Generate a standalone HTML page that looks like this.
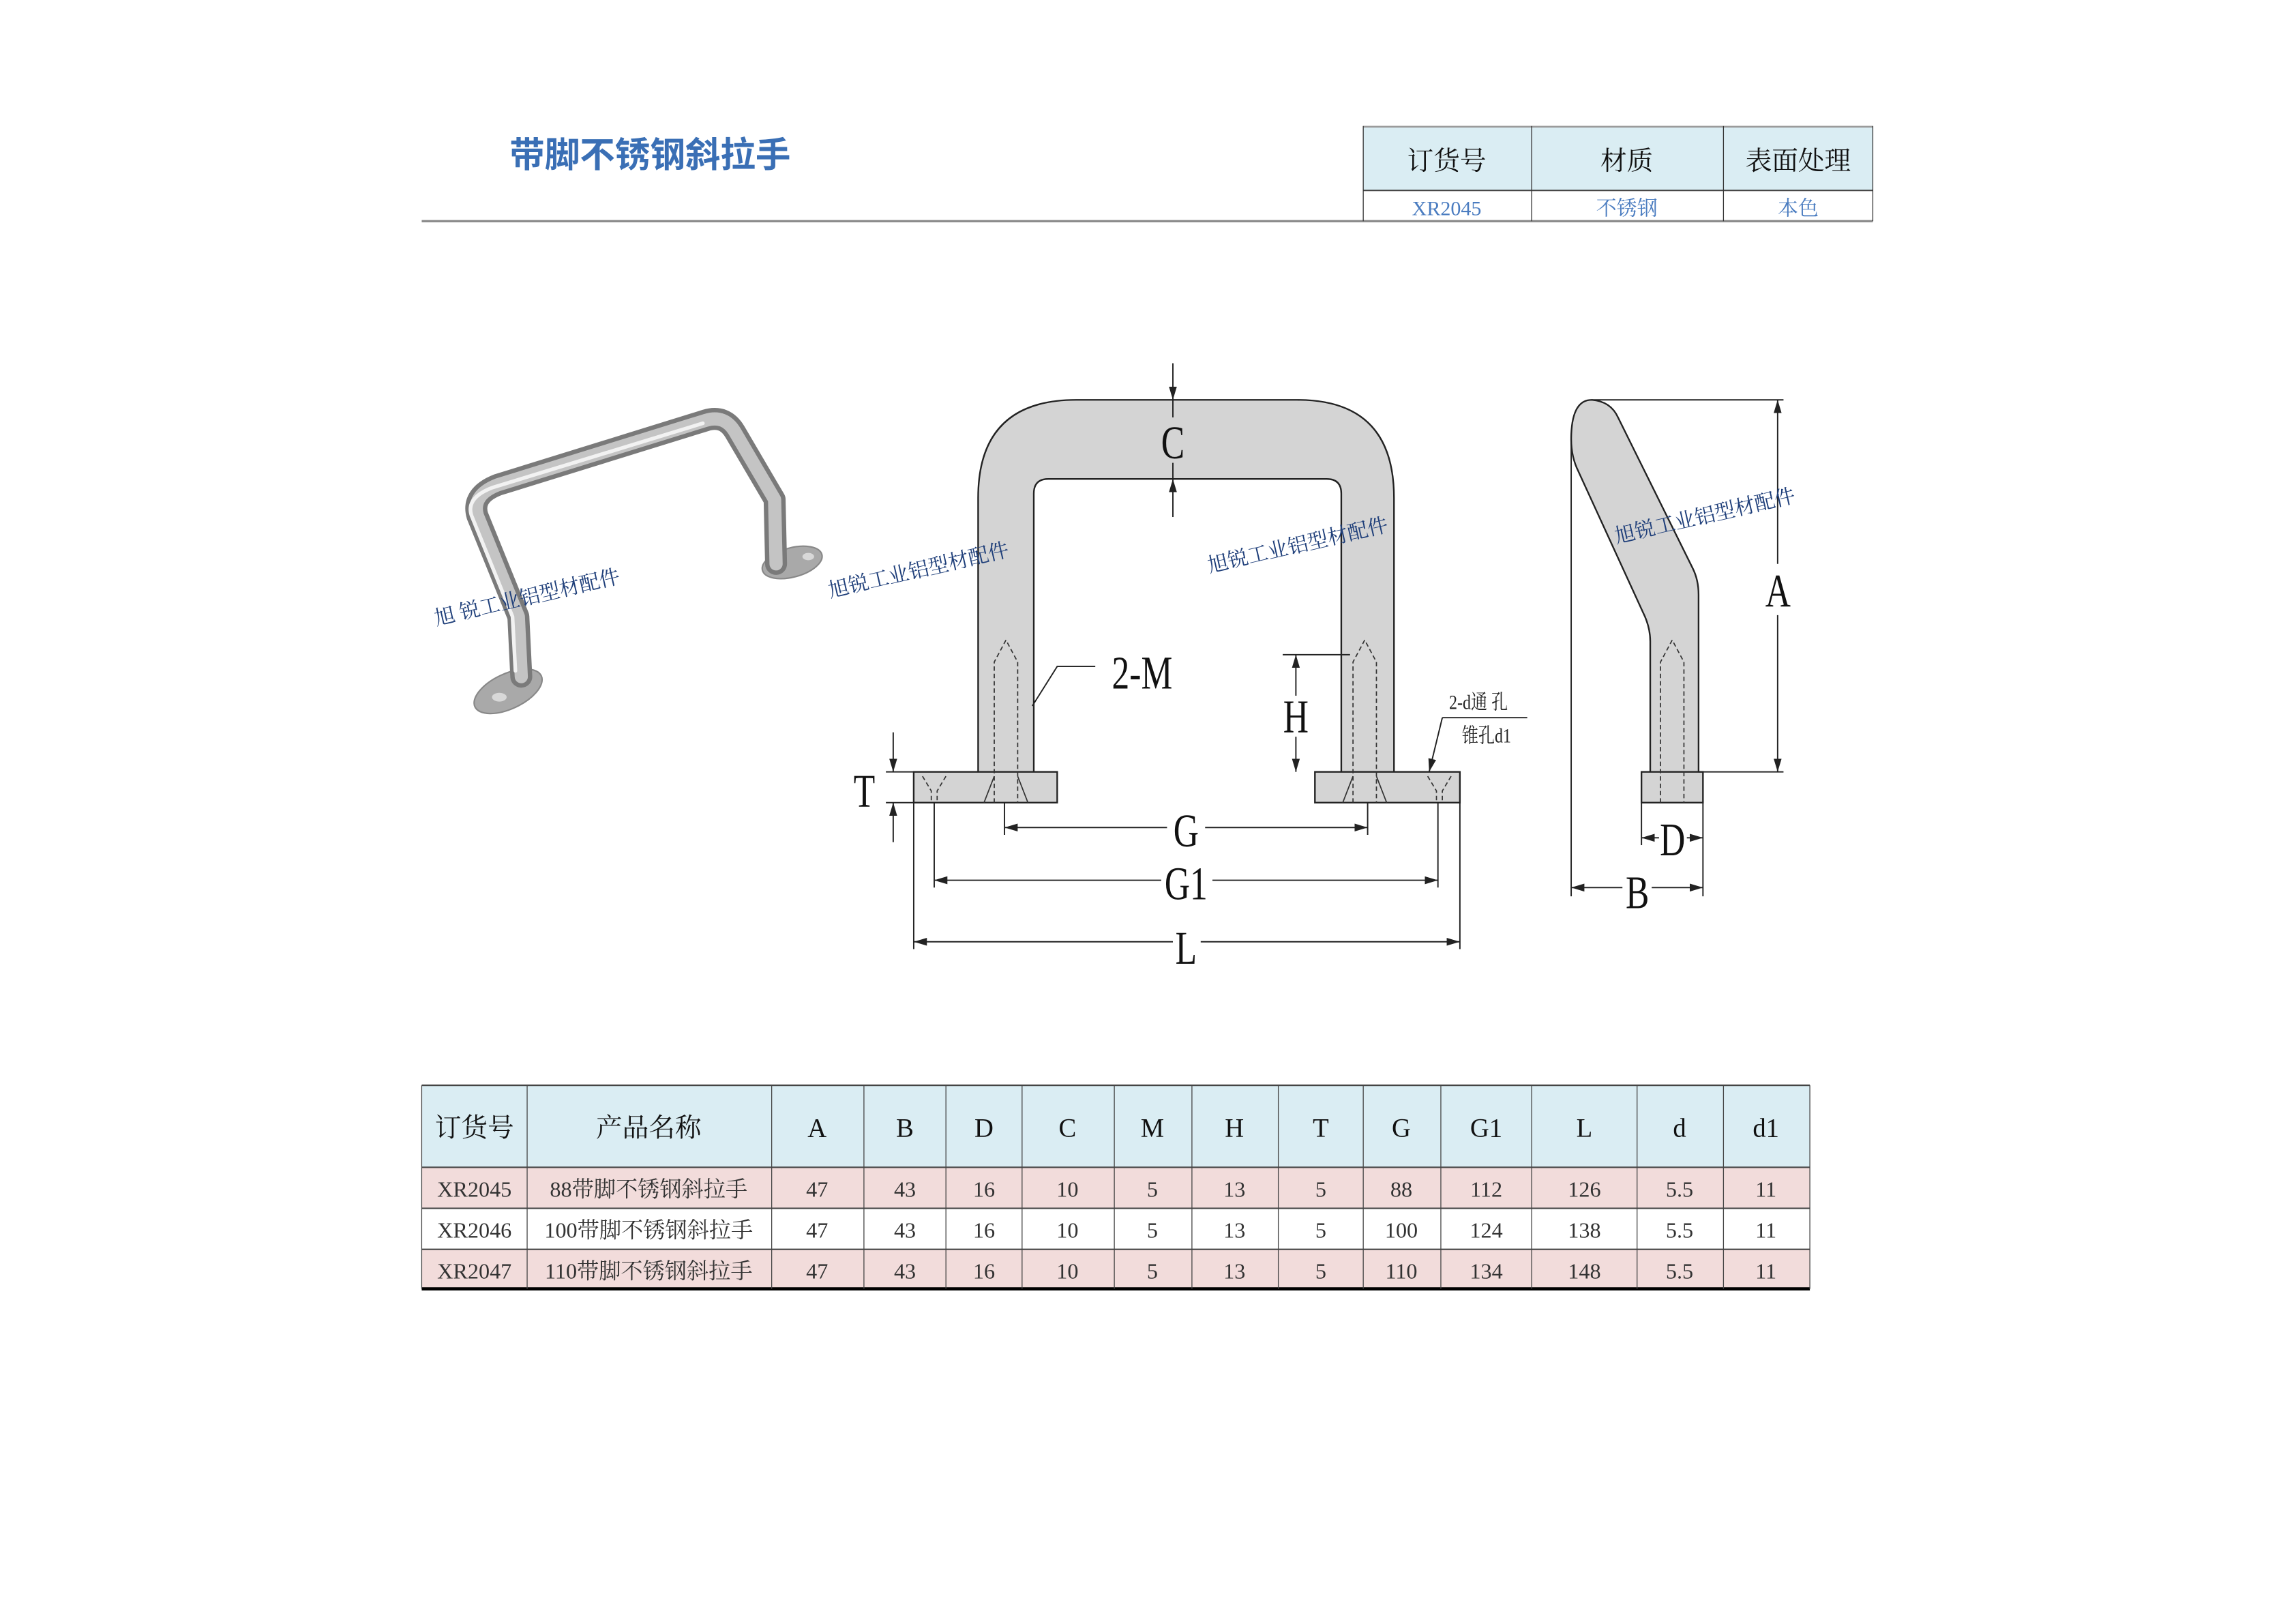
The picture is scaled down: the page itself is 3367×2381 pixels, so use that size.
<!DOCTYPE html>
<html><head><meta charset="utf-8"><style>
html,body{margin:0;padding:0;background:#fff}
svg{display:block}
text{font-family:"Liberation Serif","Noto Serif CJK SC",serif}
</style></head><body>
<svg width="3367" height="2381" viewBox="0 0 1568 1108.8" xmlns="http://www.w3.org/2000/svg">
<defs>
<marker id="ar" viewBox="0 0 10 10" refX="10" refY="5" markerWidth="9" markerHeight="9" orient="auto-start-reverse" markerUnits="userSpaceOnUse"><path d="M0,2 L10,5 L0,8 z" fill="#222"/></marker>
</defs>

<text x="348" y="114" font-size="24" font-weight="bold" fill="#3a6fb5" style="font-family:'Liberation Sans','Noto Sans CJK SC',sans-serif">带脚不锈钢斜拉手</text>
<line x1="288" y1="151" x2="1279" y2="151" stroke="#888" stroke-width="1.5"/>
<rect x="931" y="86" width="348" height="44" fill="#daedf3"/>
<line x1="931" y1="86.5" x2="1279" y2="86.5" stroke="#999" stroke-width="1.2"/>
<line x1="931" y1="130" x2="1279" y2="130" stroke="#444" stroke-width="1"/>
<g stroke="#333" stroke-width="0.6"><line x1="931" y1="86" x2="931" y2="151"/><line x1="1046" y1="86" x2="1046" y2="151"/><line x1="1177" y1="86" x2="1177" y2="151"/><line x1="1279" y1="86" x2="1279" y2="151"/></g>
<g font-size="18" text-anchor="middle" fill="#111"><text x="988" y="116">订货号</text><text x="1111" y="116">材质</text><text x="1228" y="116">表面处理</text></g>
<g font-size="14" text-anchor="middle" fill="#4a7cc0"><text x="988" y="147">XR2045</text><text x="1111" y="147">不锈钢</text><text x="1228" y="147">本色</text></g>

<g fill="none" stroke-linecap="round" stroke-linejoin="round">
<ellipse cx="347" cy="472" rx="25" ry="12" transform="rotate(-25 347 472)" fill="#a9a9a9" stroke="#888"/>
<ellipse cx="341" cy="476" rx="5" ry="3" fill="#d8d8d8"/>
<ellipse cx="541" cy="384" rx="21" ry="10" transform="rotate(-15 541 384)" fill="#a9a9a9" stroke="#888"/>
<ellipse cx="552" cy="380" rx="4" ry="2.5" fill="#d8d8d8"/>
<path d="M356,462 L354,421 L326,352 Q322,338 340,331 L482,287 Q495,283 502,295 L529,341 L530,385" stroke="#7a7a7a" stroke-width="15"/>
<path d="M356,462 L354,421 L326,352 Q322,338 340,331 L482,287 Q495,283 502,295 L529,341 L530,385" stroke="#c4c4c4" stroke-width="9"/>
<path d="M352,458 L350,421 L322,352 Q318,340 336,333 L480,289" stroke="#f2f2f2" stroke-width="2.5"/>
</g>

<g stroke="#222" stroke-width="1.1" fill="#d4d4d4">
<path d="M668,527 L668,340 Q668,273 735,273 L886,273 Q952,273 952,340 L952,527 L916,527 L916,337 Q916,327 906,327 L716,327 Q706,327 706,337 L706,527 Z"/>
<rect x="624" y="527" width="98" height="21"/>
<rect x="898" y="527" width="99" height="21"/>
</g>
<g stroke="#333" stroke-width="0.8" fill="none" stroke-dasharray="3,2">
<path d="M679,548 L679,452 L687,437 L695,452 L695,548"/>
<path d="M924,548 L924,452 L932,437 L940,452 L940,548"/>
<path d="M630,530 L636,540 L636,548 M646,530 L640,540 L640,548"/>
<path d="M975,530 L981,540 L981,548 M991,530 L985,540 L985,548"/>
</g>
<path d="M672,548 L679,530 M702,548 L695,530 M917,548 L924,530 M947,548 L940,530" stroke="#333" stroke-width="0.8"/>

<g stroke="#222" stroke-width="0.9" fill="none">
<line x1="801" y1="248" x2="801" y2="273" marker-end="url(#ar)"/>
<line x1="801" y1="353" x2="801" y2="327" marker-end="url(#ar)"/>
<line x1="801" y1="273" x2="801" y2="285"/><line x1="801" y1="316" x2="801" y2="327"/>
<polyline points="748,455 722,455 705,482"/>
<line x1="876" y1="447" x2="922" y2="447"/>
<line x1="885" y1="475" x2="885" y2="447" marker-end="url(#ar)"/>
<line x1="885" y1="503" x2="885" y2="527" marker-end="url(#ar)"/>
<line x1="985" y1="490" x2="1043" y2="490"/>
<line x1="985" y1="490" x2="976" y2="527" marker-end="url(#ar)"/>
<line x1="605" y1="527" x2="624" y2="527"/><line x1="605" y1="548" x2="624" y2="548"/>
<line x1="610" y1="500" x2="610" y2="527" marker-end="url(#ar)"/>
<line x1="610" y1="575" x2="610" y2="548" marker-end="url(#ar)"/>
<line x1="686" y1="548" x2="686" y2="570"/><line x1="934" y1="548" x2="934" y2="570"/>
<line x1="638" y1="548" x2="638" y2="606"/><line x1="982" y1="548" x2="982" y2="606"/>
<line x1="624" y1="548" x2="624" y2="648"/><line x1="997" y1="548" x2="997" y2="648"/>
<line x1="797" y1="565" x2="686" y2="565" marker-end="url(#ar)"/><line x1="823" y1="565" x2="934" y2="565" marker-end="url(#ar)"/>
<line x1="793" y1="601" x2="638" y2="601" marker-end="url(#ar)"/><line x1="828" y1="601" x2="982" y2="601" marker-end="url(#ar)"/>
<line x1="801" y1="643" x2="624" y2="643" marker-end="url(#ar)"/><line x1="820" y1="643" x2="997" y2="643" marker-end="url(#ar)"/>
</g>
<g font-size="32" text-anchor="middle" fill="#111" transform="scale(0.75 1)">
<text x="1068" y="313">C</text>
<text x="1040" y="470">2-M</text>
<text x="1180" y="500">H</text>
<text x="787" y="551">T</text>
<text x="1080" y="578">G</text>
<text x="1080" y="614">G1</text>
<text x="1080" y="658">L</text>
<text x="1619" y="414">A</text>
<text x="1523" y="584">D</text>
<text x="1491" y="620">B</text>
</g>
<g font-size="14" fill="#222" transform="scale(0.8 1)"><text x="1237" y="484">2-d通 孔</text><text x="1248" y="507">锥孔d1</text></g>

<g stroke="#222" stroke-width="1.1" fill="#d4d4d4">
<path d="M1087,273 Q1100,274 1105,285 L1156,388 Q1160,396 1160,406 L1160,527 L1127,527 L1127,438 Q1127,428 1122,418 L1078,322 Q1073,312 1073,300 Q1073,273 1087,273 Z"/>
<rect x="1121" y="527" width="42" height="21"/>
</g>
<path d="M1134,548 L1134,452 L1142,437 L1150,452 L1150,548" stroke="#333" stroke-width="0.8" fill="none" stroke-dasharray="3,2"/>
<g stroke="#222" stroke-width="0.9" fill="none">
<line x1="1087" y1="273" x2="1218" y2="273"/><line x1="1160" y1="527" x2="1218" y2="527"/>
<line x1="1214" y1="385" x2="1214" y2="273" marker-end="url(#ar)"/>
<line x1="1214" y1="420" x2="1214" y2="527" marker-end="url(#ar)"/>
<line x1="1073" y1="300" x2="1073" y2="612"/><line x1="1163" y1="548" x2="1163" y2="612"/><line x1="1121" y1="548" x2="1121" y2="577"/>
<line x1="1133" y1="572" x2="1121" y2="572" marker-end="url(#ar)"/><line x1="1152" y1="572" x2="1163" y2="572" marker-end="url(#ar)"/>
<line x1="1108" y1="606" x2="1073" y2="606" marker-end="url(#ar)"/><line x1="1128" y1="606" x2="1163" y2="606" marker-end="url(#ar)"/>
</g>

<g font-size="14" fill="#1f3f7a" style="font-family:'Liberation Sans','Noto Sans CJK SC',sans-serif">
<text transform="translate(298 427) rotate(-13)">旭 锐工业铝型材配件</text>
<text transform="translate(567 408) rotate(-13)">旭锐工业铝型材配件</text>
<text transform="translate(826 391) rotate(-13)">旭锐工业铝型材配件</text>
<text transform="translate(1104 371) rotate(-13)">旭锐工业铝型材配件</text>
</g>

<rect x="288" y="741" width="948" height="56" fill="#daedf3"/>
<rect x="288" y="797" width="948" height="28" fill="#f2dcdb"/>
<rect x="288" y="853" width="948" height="27" fill="#f2dcdb"/>
<g stroke="#444" stroke-width="1"><line x1="288" y1="741" x2="1236" y2="741"/><line x1="288" y1="797" x2="1236" y2="797"/><line x1="288" y1="825" x2="1236" y2="825"/><line x1="288" y1="853" x2="1236" y2="853"/></g>
<line x1="288" y1="880" x2="1236" y2="880" stroke="#000" stroke-width="2.2"/>
<g stroke="#444" stroke-width="0.6">
<line x1="288" y1="741" x2="288" y2="880"/><line x1="360" y1="741" x2="360" y2="880"/><line x1="527" y1="741" x2="527" y2="880"/><line x1="590" y1="741" x2="590" y2="880"/><line x1="646" y1="741" x2="646" y2="880"/><line x1="698" y1="741" x2="698" y2="880"/><line x1="761" y1="741" x2="761" y2="880"/><line x1="814" y1="741" x2="814" y2="880"/><line x1="873" y1="741" x2="873" y2="880"/><line x1="931" y1="741" x2="931" y2="880"/><line x1="984" y1="741" x2="984" y2="880"/><line x1="1046" y1="741" x2="1046" y2="880"/><line x1="1118" y1="741" x2="1118" y2="880"/><line x1="1177" y1="741" x2="1177" y2="880"/><line x1="1236" y1="741" x2="1236" y2="880"/>
</g>
<g font-size="18" text-anchor="middle" fill="#111">
<text x="324" y="776">订货号</text><text x="443" y="776">产品名称</text>
<text x="558" y="776">A</text><text x="618" y="776">B</text><text x="672" y="776">D</text><text x="729" y="776">C</text><text x="787" y="776">M</text><text x="843" y="776">H</text><text x="902" y="776">T</text><text x="957" y="776">G</text><text x="1015" y="776">G1</text><text x="1082" y="776">L</text><text x="1147" y="776">d</text><text x="1206" y="776">d1</text>
</g>
<g font-size="15" text-anchor="middle" fill="#333">
<text x="324" y="817">XR2045</text><text x="443" y="817">88带脚不锈钢斜拉手</text>
<text x="558" y="817">47</text><text x="618" y="817">43</text><text x="672" y="817">16</text><text x="729" y="817">10</text><text x="787" y="817">5</text><text x="843" y="817">13</text><text x="902" y="817">5</text><text x="957" y="817">88</text><text x="1015" y="817">112</text><text x="1082" y="817">126</text><text x="1147" y="817">5.5</text><text x="1206" y="817">11</text>
<text x="324" y="845">XR2046</text><text x="443" y="845">100带脚不锈钢斜拉手</text>
<text x="558" y="845">47</text><text x="618" y="845">43</text><text x="672" y="845">16</text><text x="729" y="845">10</text><text x="787" y="845">5</text><text x="843" y="845">13</text><text x="902" y="845">5</text><text x="957" y="845">100</text><text x="1015" y="845">124</text><text x="1082" y="845">138</text><text x="1147" y="845">5.5</text><text x="1206" y="845">11</text>
<text x="324" y="873">XR2047</text><text x="443" y="873">110带脚不锈钢斜拉手</text>
<text x="558" y="873">47</text><text x="618" y="873">43</text><text x="672" y="873">16</text><text x="729" y="873">10</text><text x="787" y="873">5</text><text x="843" y="873">13</text><text x="902" y="873">5</text><text x="957" y="873">110</text><text x="1015" y="873">134</text><text x="1082" y="873">148</text><text x="1147" y="873">5.5</text><text x="1206" y="873">11</text>
</g>
</svg>
</body></html>
